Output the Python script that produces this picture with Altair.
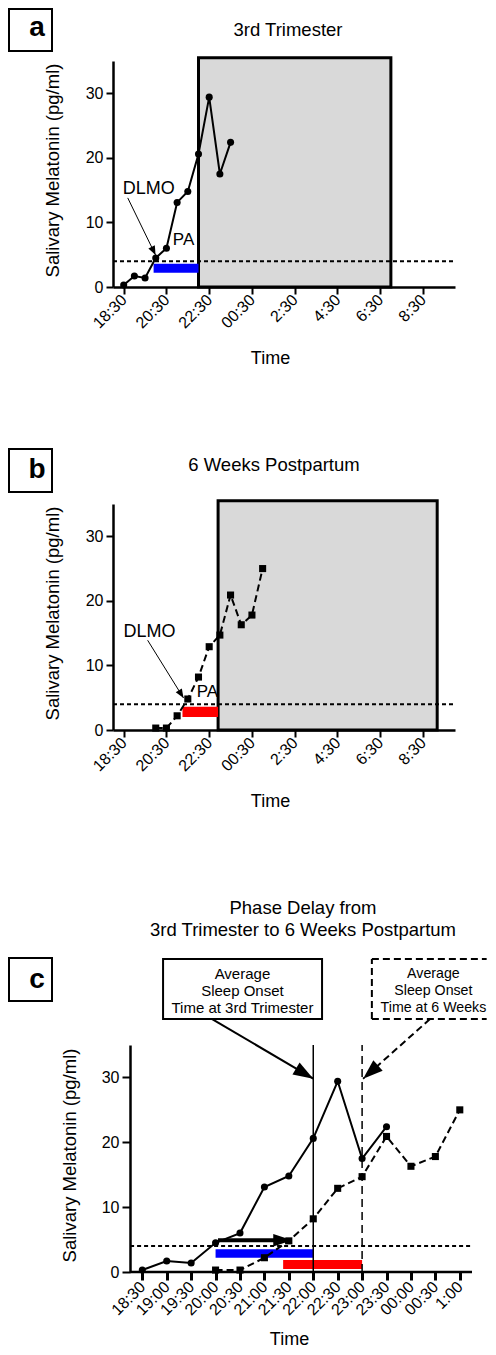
import json
import math
import altair as alt
import pandas as pd

FONT = "Liberation Sans"


def hrs(t):
    h, m = (int(s) for s in t.split(":"))
    if h < 12:
        h += 24
    return h + m / 60.0


# ---------------- data ----------------
tri_times = ["18:30", "19:00", "19:30", "20:00", "20:30", "21:00", "21:30", "22:00", "22:30", "23:00", "23:30"]
tri_vals = [0.3, 1.7, 1.4, 4.5, 6.0, 13.1, 14.8, 20.6, 29.4, 17.5, 22.4]
pp_times = ["20:00", "20:30", "21:00", "21:30", "22:00", "22:30", "23:00", "23:30", "00:00", "00:30", "1:00"]
pp_vals = [0.3, 0.3, 2.2, 4.8, 8.2, 12.9, 14.7, 20.9, 16.3, 17.8, 25.0]

ab_tick_labels = ["18:30", "20:30", "22:30", "00:30", "2:30", "4:30", "6:30", "8:30"]
c_tick_labels = ["18:30", "19:00", "19:30", "20:00", "20:30", "21:00", "21:30",
                 "22:00", "22:30", "23:00", "23:30", "00:00", "00:30", "1:00"]
y_tick_values = [0, 10, 20, 30]
dlmo_threshold = 4

a_sleep_times = ["22:00", "7:00"]
b_sleep_times = ["22:55", "9:10"]
sleep_box_top = 35.5

a_pa_times = ["19:54", "22:00"]
a_pa_levels = [2.2, 3.6]
b_pa_times = ["21:15", "22:55"]
b_pa_levels = [2.0, 3.6]
c_blue_times = ["20:00", "22:00"]
c_blue_levels = [2.2, 3.5]
c_red_times = ["21:23", "23:00"]
c_red_levels = [0.45, 1.85]
c_onset_times = ["22:00", "23:00"]

# annotation anchors (hours, pg/ml)
a_dlmo_arrow = [18.69, 13.8, 19.99, 4.95]
a_dlmo_label = [19.67, 15.2]
a_pa_label = [21.3, 7.3]
b_dlmo_arrow = [19.62, 13.9, 21.3, 4.95]
b_dlmo_label = [19.71, 15.2]
b_pa_label = [22.42, 5.9]

c_shift_arrow = [20.05, 4.9, 21.57, 4.9]
c_box1 = [18.925, 22.18, 39.0, 48.26]
c_box2 = [23.2, 25.55, 39.0, 48.26]
c_box1_text = ["Average", "Sleep Onset", "Time at 3rd Trimester"]
c_box2_text = ["Average", "Sleep Onset", "Time at 6 Weeks"]
c_box1_text_pos = [20.55, 45.95]
c_box2_text_pos = [24.46, 45.95]
c_ann_arrow1 = [19.93, 39.0, 22.0, 29.8]
c_ann_arrow2 = [24.39, 39.0, 23.02, 29.8]
c_axis_span = [18.25, 25.25]

# ---------------- geometry ----------------
W_AB, H_AB = 342, 226
W_C, H_C = 359, 227
XD_AB = [18.0, 34.0]
XD_C = [17.9, 25.25]
YD = [0, 35]

ARROW = "M0,0L-2,-0.8L-2,0.8Z"
BIG_ARROW = "M0,0L-2,-0.7L-2,0.7Z"
BOLD_ARROW = "M0,0L-2,-0.65L-2,0.65Z"


def axis_common(**kw):
    base = dict(domainColor="black", domainWidth=2.5, tickColor="black", tickWidth=2, tickSize=7,
                labelColor="black", labelFontSize=16, labelFont=FONT, titleFont=FONT,
                titleFontSize=18.5, titleFontWeight="normal", titleColor="black", grid=False,
                labelFlush=False, labelOverlap=False, labelPadding=3)
    base.update(kw)
    return alt.Axis(**base)


def one():
    return pd.DataFrame({"k": [0]})


def arrow_angle(seg, wpx, hpx, xdom):
    pxx = wpx / (xdom[1] - xdom[0])
    pxy = hpx / (YD[1] - YD[0])
    dx = (seg[2] - seg[0]) * pxx
    dy = -(seg[3] - seg[1]) * pxy
    return math.degrees(math.atan2(dy, dx)) % 360


def make_panel(kind):
    if kind in ("a", "b"):
        W, H, XD = W_AB, H_AB, XD_AB
        xvals = [hrs(t) for t in ab_tick_labels]
        lab = f"{json.dumps(ab_tick_labels)}[round((datum.value - 18.5) / 2)]"
        xax = axis_common(values=xvals, labelExpr=lab, labelAngle=315, labelAlign="right",
                          labelBaseline="middle", title="Time", titleX=157, titleY=71,
                          titleBaseline="middle", titleAlign="center", titleFontSize=18)
        yax = axis_common(values=y_tick_values, title="Salivary Melatonin (pg/ml)", titleX=-61,
                          titleY=109, titleBaseline="middle", titleAlign="center", titleAngle=270)
    else:
        W, H, XD = W_C, H_C, XD_C
        xvals = [hrs(t) for t in c_tick_labels]
        lab = f"{json.dumps(c_tick_labels)}[round((datum.value - 18.5) * 2)]"
        xax = axis_common(values=xvals, labelExpr=lab, labelAngle=315, labelAlign="right",
                          labelBaseline="middle", title="Time", titleX=176, titleY=72,
                          titleBaseline="alphabetic", titleAlign="center", titleFontSize=18,
                          domain=False, tickWidth=3, tickSize=8, labelPadding=4)
        yax = axis_common(values=y_tick_values, title="Salivary Melatonin (pg/ml)", titleX=-61,
                          titleY=110, titleBaseline="middle", titleAlign="center", titleAngle=270,
                          offset=-17, tickSize=8)

    xs = alt.Scale(domain=XD, nice=False, zero=False)
    ys = alt.Scale(domain=YD, nice=False, zero=False)

    def X(f="x"):
        return alt.X(f"{f}:Q", scale=xs, axis=xax)

    def Y(f="y"):
        return alt.Y(f"{f}:Q", scale=ys, axis=yax)

    layers = []

    def rect_layer(xr, yr, **mk):
        df = pd.DataFrame({"x": [xr[0]], "x2": [xr[1]], "y": [yr[0]], "y2": [yr[1]]})
        return alt.Chart(df).mark_rect(**mk).encode(x=X(), x2="x2:Q", y=Y(), y2="y2:Q")

    def seg_layer(seg, **mk):
        df = pd.DataFrame({"x": [seg[0]], "y": [seg[1]], "x2": [seg[2]], "y2": [seg[3]]})
        return alt.Chart(df).mark_rule(**mk).encode(x=X(), y=Y(), x2="x2:Q", y2="y2:Q")

    def head_layer(seg, shape, size):
        df = pd.DataFrame({"x": [seg[2]], "y": [seg[3]]})
        ang = arrow_angle(seg, W, H, XD)
        return alt.Chart(df).mark_point(shape=shape, size=size, filled=True, color="black",
                                        opacity=1, strokeWidth=0, angle=ang).encode(x=X(), y=Y())

    def text_layer(pos, txt, size, **mk):
        df = pd.DataFrame({"x": [pos[0]], "y": [pos[1]]})
        return alt.Chart(df).mark_text(text=txt, fontSize=size, font=FONT, color="black", **mk).encode(
            x=X(), y=Y())

    def series_layers(times, vals, dashed, shape):
        df = pd.DataFrame({"x": [hrs(t) for t in times], "y": vals})
        lk = dict(color="black", strokeWidth=2)
        if dashed:
            lk["strokeDash"] = [7, 4]
        ln = alt.Chart(df).mark_line(**lk).encode(x=X(), y=Y())
        pt = alt.Chart(df).mark_point(shape=shape, filled=True, color="black", opacity=1,
                                      size=50, strokeWidth=0).encode(x=X(), y=Y())
        return [ln, pt]

    thr = pd.DataFrame({"x": [XD[0] if kind != "c" else c_axis_span[0]],
                        "x2": [XD[1]], "y": [dlmo_threshold]})
    threshold = alt.Chart(thr).mark_rule(color="black", strokeWidth=2, strokeDash=[4, 3]).encode(
        x=X(), x2="x2:Q", y=Y())

    if kind in ("a", "b"):
        sleep = a_sleep_times if kind == "a" else b_sleep_times
        layers.append(rect_layer([hrs(sleep[0]), hrs(sleep[1])], [0, sleep_box_top],
                                 fill="#d9d9d9", stroke="black", strokeWidth=3))
        layers.append(threshold)
        pa_t = a_pa_times if kind == "a" else b_pa_times
        pa_l = a_pa_levels if kind == "a" else b_pa_levels
        layers.append(rect_layer([hrs(pa_t[0]), hrs(pa_t[1])], pa_l,
                                 color="#0000ff" if kind == "a" else "#ff0000"))
        if kind == "a":
            layers += series_layers(tri_times, tri_vals, False, "circle")
            arr, dl, pl = a_dlmo_arrow, a_dlmo_label, a_pa_label
        else:
            layers += series_layers(pp_times, pp_vals, True, "square")
            arr, dl, pl = b_dlmo_arrow, b_dlmo_label, b_pa_label
        layers.append(seg_layer(arr, color="black", strokeWidth=1))
        layers.append(head_layer(arr, ARROW, 81))
        layers.append(text_layer(dl, "DLMO", 18, baseline="middle"))
        layers.append(text_layer(pl, "PA", 17, baseline="middle"))
        box_y = (-52, -10) if kind == "a" else (-55, -12)
        title = "3rd Trimester" if kind == "a" else "6 Weeks Postpartum"
        tx, ty = (175, -25) if kind == "a" else (161, -33)
        let_y = -25 if kind == "a" else -26
    else:
        ax = pd.DataFrame({"x": [c_axis_span[0]], "x2": [c_axis_span[1]], "y": [0]})
        layers.append(alt.Chart(ax).mark_rule(color="black", strokeWidth=2.5).encode(
            x=X(), x2="x2:Q", y=Y()))
        layers.append(threshold)
        layers.append(rect_layer([hrs(c_blue_times[0]), hrs(c_blue_times[1])], c_blue_levels,
                                 color="#0000ff"))
        layers.append(rect_layer([hrs(c_red_times[0]), hrs(c_red_times[1])], c_red_levels,
                                 color="#ff0000"))
        layers += series_layers(tri_times, tri_vals, False, "circle")
        layers += series_layers(pp_times, pp_vals, True, "square")
        on0, on1 = hrs(c_onset_times[0]), hrs(c_onset_times[1])
        layers.append(seg_layer([on0, 0, on0, 35], color="black", strokeWidth=1.5))
        layers.append(seg_layer([on1, 0, on1, 35], color="black", strokeWidth=1.5, strokeDash=[8, 5]))
        sa = c_shift_arrow
        layers.append(seg_layer([sa[0], sa[1], sa[2] - 0.25, sa[3]], color="black", strokeWidth=4))
        layers.append(head_layer(sa, BOLD_ARROW, 361))
        layers.append(rect_layer(c_box1[:2], c_box1[2:], fill="white", stroke="black", strokeWidth=2))
        b2 = c_box2
        dash = dict(color="black", strokeWidth=2, strokeDash=[7, 4])
        layers.append(seg_layer([b2[0], b2[3], b2[1], b2[3]], **dash))
        layers.append(seg_layer([b2[0], b2[2], b2[1], b2[2]], **dash))
        layers.append(seg_layer([b2[0], b2[2], b2[0], b2[3]], **dash))
        layers.append(text_layer(c_box1_text_pos, c_box1_text, 15, baseline="middle", lineHeight=17))
        layers.append(text_layer(c_box2_text_pos, c_box2_text, 14.2, baseline="middle", lineHeight=17))
        a1, a2 = c_ann_arrow1, c_ann_arrow2
        layers.append(seg_layer(a1, color="black", strokeWidth=2))
        layers.append(head_layer(a1, BIG_ARROW, 400))
        layers.append(seg_layer(a2, **dash))
        layers.append(head_layer(a2, BIG_ARROW, 400))
        box_y = (-87, -44)
        title = ["Phase Delay from", "3rd Trimester to 6 Weeks Postpartum"]
        tx, ty = 190, -131
        let_y = -57

    layers.append(alt.Chart(one()).mark_rect(fill="white", stroke="black", strokeWidth=2).encode(
        x=alt.value(-104), x2=alt.value(-61), y=alt.value(box_y[0]), y2=alt.value(box_y[1])))
    layers.append(alt.Chart(one()).mark_text(text=kind, fontSize=28, fontWeight="bold", font=FONT,
                                             color="black", baseline="alphabetic").encode(
        x=alt.value(-76), y=alt.value(let_y)))
    layers.append(alt.Chart(one()).mark_text(text=title, fontSize=18.5, font=FONT, color="black",
                                             baseline="alphabetic", lineHeight=22).encode(
        x=alt.value(tx), y=alt.value(ty)))

    return alt.layer(*layers).properties(width=W, height=H)


A = make_panel("a")
B = make_panel("b")
C = make_panel("c")

chart = alt.vconcat(alt.vconcat(A, B, spacing=81), C, spacing=89).properties(
    padding=0).configure(font=FONT).configure_view(stroke=None)

chart.save("out.html", embed_options={"renderer": "svg", "actions": False})
